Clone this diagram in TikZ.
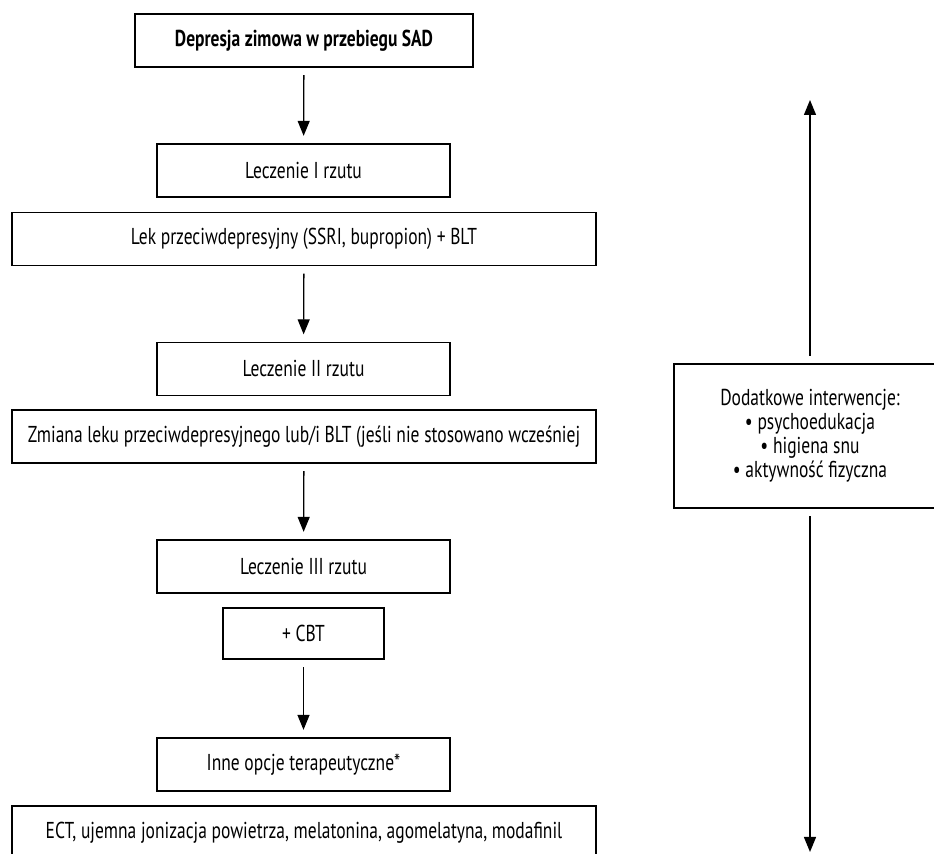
\documentclass[tikz,border=0pt]{standalone}
\usepackage{fontspec}
\setmainfont{PT Sans}[FakeStretch=0.76]
\usepackage{tikz}
\usetikzlibrary{arrows.meta, positioning}

\begin{document}
\begin{tikzpicture}[x=0.5pt, y=-0.5pt, >={Triangle[length=7.5pt,width=6pt]},
    box/.style={draw, line width=0.65pt, inner sep=0pt, minimum height=26.5pt,
        align=center, font=\fontsize{11.5}{12}\selectfont},
    arr/.style={->, line width=0.65pt, shorten <=3.75pt, shorten >=3.75pt}]
        \useasboundingbox (0,0) rectangle (934,854);
        \clip (0,0) rectangle (934,854);

        % węzły
        \node[box, minimum width=169pt, font=\fontsize{11.5}{12}\selectfont\bfseries] (sad) at (304,40.5) {Depresja zimowa w przebiegu SAD};
        \node[box, minimum width=146.5pt] (rzut1) at (303.5,170.5) {Leczenie I rzutu};
        \node[box, minimum width=292pt] (lek1) at (304,239) {Lek przeciwdepresyjny (SSRI, bupropion) + BLT};
        \node[box, minimum width=146.5pt] (rzut2) at (303.5,369) {Leczenie II rzutu};
        \node[box, minimum width=292pt] (lek2) at (304,436.5) {Zmiana leku przeciwdepresyjnego lub/i BLT (jeśli nie stosowano wcześniej};
        \node[box, minimum width=146.5pt] (rzut3) at (303.5,566.5) {Leczenie III rzutu};
        \node[box, minimum width=80.5pt, minimum height=25.5pt] (cbt) at (303.5,633.5) {+ CBT};
        \node[box, minimum width=146.5pt] (inne) at (303.5,764.5) {Inne opcje terapeutyczne*};
        \node[box, minimum width=292pt] (ect) at (304,832.5) {ECT, ujemna jonizacja powietrza, melatonina, agomelatyna, modafinil};
        \node[box, minimum width=136pt, minimum height=72pt] (dodatkowe) at (810,436) {Dodatkowe interwencje:\\ • psychoedukacja\\ • higiena snu\\ • aktywność fizyczna};
        \coordinate (gora) at (810,100);
        \coordinate (dol) at (810,852);

        % strzałki
        \draw[arr] (sad) -- (rzut1);
        \draw[arr] (lek1) -- (rzut2);
        \draw[arr] (lek2) -- (rzut3);
        \draw[arr] (cbt) -- (inne);
        \draw[arr, shorten >=0pt] (dodatkowe) -- (gora);
        \draw[arr, shorten >=0pt] (dodatkowe) -- (dol);
    \end{tikzpicture}
\end{document}
